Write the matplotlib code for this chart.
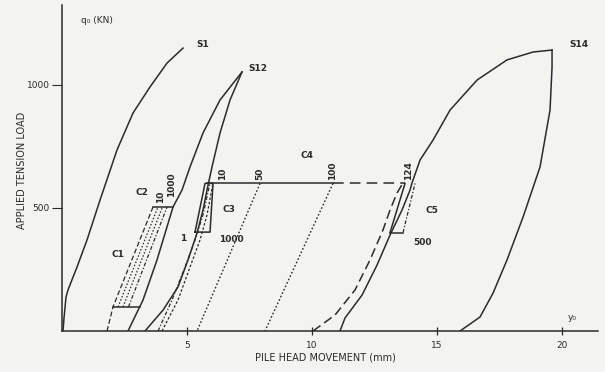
import matplotlib
matplotlib.use("Agg")
import matplotlib.pyplot as plt

# ---------------- data (x: pile head movement mm, y: applied tension load kN) -------------
s1_x = [0.04, 0.08, 0.16, 0.24, 0.6, 1.0, 1.52, 2.2, 2.84, 3.52, 4.2, 4.84]
s1_y = [0, 53, 138, 167, 260, 370, 532, 736, 886, 992, 1089, 1150]

s12_load_x = [3.32, 4.04, 4.64, 5.04, 5.4, 5.64, 5.8, 6.0, 6.32, 6.72, 7.2]
s12_load_y = [0, 85, 179, 289, 398, 492, 573, 667, 805, 939, 1053]
s12_unload_x = [7.2, 6.32, 5.64, 5.12, 4.8, 4.44, 3.8, 3.24, 2.64]
s12_unload_y = [1053, 939, 805, 667, 573, 504, 289, 126, 0]

s14_load_x = [11.12, 11.32, 12.0, 12.6, 13.12, 13.6, 13.92, 14.0, 14.32, 14.84, 15.52, 16.6, 17.8, 18.84, 19.6]
s14_load_y = [0, 53, 146, 268, 390, 492, 573, 602, 695, 776, 898, 1020, 1102, 1134, 1142]
s14_unload_x = [19.6, 19.6, 19.52, 19.12, 18.44, 17.8, 17.24, 16.72, 15.92]
s14_unload_y = [1142, 1073, 898, 667, 463, 289, 154, 57, 0]

c5_reload_x = [10.04, 10.92, 11.72, 12.32, 12.84, 13.12, 13.4, 13.64]
c5_reload_y = [0, 65, 167, 289, 411, 492, 561, 602]

# C4 cyclic plateau
c4_load = 600
c4_solid_x = [5.8, 10.84]
c4_dash_x = [10.84, 13.72]
c4_marks_x = [6.44, 7.92, 10.84, 13.84]
c4_marks_lbl = ["10", "50", "100", "124"]

# unloading dotted lines from C4
dot50_x = [7.92, 5.4]
dot50_y = [600, 0]
dot100_x = [10.84, 8.12]
dot100_y = [600, 0]

# C3 group
c3_a_x = [3.84, 4.4, 4.92, 5.32, 5.64, 5.92]
c3_a_y = [0, 126, 260, 370, 472, 602]
c3_b_x = [4.0, 4.64, 5.12, 5.52, 5.8, 6.04]
c3_b_y = [0, 126, 260, 370, 472, 602]
c3_box_x = [5.32, 5.92, 6.04, 5.72, 5.32]
c3_box_y = [402, 402, 600, 600, 402]

# C5 box
c5_left_x = [13.12, 13.72]
c5_left_y = [400, 600]
c5_right_x = [13.64, 14.12]
c5_right_y = [400, 600]
c5_bot_x = [13.12, 13.64]
c5_bot_y = [400, 400]

# C1 / C2 group
c1_bot_x = [2.04, 3.12]
c1_bot_y = [98, 98]
c2_top_x = [3.64, 4.44]
c2_top_y = [504, 504]
c1_dash_x = [1.8, 2.04, 3.64]
c1_dash_y = [0, 98, 504]
c1_dot1_x = [2.24, 3.84]
c1_dot2_x = [2.44, 4.02]
c1_dd_x = [2.66, 4.2]
c1_slant_y = [98, 504]

x_ticks = [5, 10, 15, 20]
x_ticklabels = ["5", "10", "15", "20"]
y_ticks = [500, 1000]
y_ticklabels = ["500", "1000"]

# ---------------- figure -------------
ink = "#2b2b2b"
bg = "#f3f3f0"
fig = plt.figure(figsize=(6.05, 3.72), dpi=100, facecolor=bg)
ax = fig.add_axes([0.1025, 0.1102, 0.886, 0.8763], facecolor=bg)
ax.set_xlim(0, 21.44)
ax.set_ylim(0, 1325)

lw = 1.1
ax.plot(s1_x, s1_y, color=ink, lw=lw)
ax.plot(s12_load_x, s12_load_y, color=ink, lw=lw)
ax.plot(s12_unload_x, s12_unload_y, color=ink, lw=lw)
ax.plot(s14_load_x, s14_load_y, color=ink, lw=lw)
ax.plot(s14_unload_x, s14_unload_y, color=ink, lw=lw)
ax.plot(c5_reload_x, c5_reload_y, color=ink, lw=lw, ls=(0, (6, 3)))

ax.plot(c4_solid_x, [c4_load, c4_load], color=ink, lw=lw)
ax.plot(c4_dash_x, [c4_load, c4_load], color=ink, lw=lw, ls=(0, (7, 4)))
ax.plot(dot50_x, dot50_y, color=ink, lw=1.0, ls=(0, (1.2, 1.5)))
ax.plot(dot100_x, dot100_y, color=ink, lw=1.0, ls=(0, (1.2, 1.5)))

ax.plot(c3_a_x, c3_a_y, color=ink, lw=0.9, ls=(0, (3, 1.5, 1, 1.5)))
ax.plot(c3_b_x, c3_b_y, color=ink, lw=0.9, ls=(0, (2, 1.5)))
ax.plot(c3_box_x, c3_box_y, color=ink, lw=lw)

ax.plot(c5_left_x, c5_left_y, color=ink, lw=lw)
ax.plot(c5_right_x, c5_right_y, color=ink, lw=0.9, ls=(0, (3, 1.5, 1, 1.5)))
ax.plot(c5_bot_x, c5_bot_y, color=ink, lw=lw)

ax.plot(c1_bot_x, c1_bot_y, color=ink, lw=lw)
ax.plot(c2_top_x, c2_top_y, color=ink, lw=lw)
ax.plot(c1_dash_x, c1_dash_y, color=ink, lw=0.9, ls=(0, (4, 2)))
ax.plot(c1_dot1_x, c1_slant_y, color=ink, lw=0.9, ls=(0, (1.2, 1.5)))
ax.plot(c1_dot2_x, c1_slant_y, color=ink, lw=0.9, ls=(0, (1.2, 1.5)))
ax.plot(c1_dd_x, c1_slant_y, color=ink, lw=0.9, ls=(0, (3, 1.5, 1, 1.5)))

# ---------------- text -------------
fs = 6.5
tk = dict(color=ink, fontsize=fs, fontweight="bold")
ax.text(5.36, 1163, "S1", ha="left", va="center", **tk)
ax.text(7.45, 1069, "S12", ha="left", va="center", **tk)
ax.text(20.3, 1163, "S14", ha="left", va="center", **tk)
ax.text(9.8, 715, "C4", ha="center", va="center", **tk)
ax.text(6.4, 492, "C3", ha="left", va="center", **tk)
ax.text(6.3, 372, "1000", ha="left", va="center", **tk)
ax.text(4.84, 378, "1", ha="center", va="center", **tk)
ax.text(3.2, 565, "C2", ha="center", va="center", **tk)
ax.text(3.95, 545, "10", ha="center", va="center", rotation=90, **tk)
ax.text(4.4, 595, "1000", ha="center", va="center", rotation=90, **tk)
ax.text(2.24, 309, "C1", ha="center", va="center", **tk)
ax.text(14.55, 490, "C5", ha="left", va="center", **tk)
ax.text(14.05, 360, "500", ha="left", va="center", **tk)
for xm, lb in zip(c4_marks_x, c4_marks_lbl):
    ax.text(xm, c4_load + 15, lb, ha="center", va="bottom", rotation=90, **tk)

ax.text(1.4, 1262, "q₀ (KN)", ha="center", va="center", color=ink, fontsize=fs)
ax.text(20.4, 37, "y₀", ha="center", va="bottom", color=ink, fontsize=fs)

# ---------------- axes styling -------------
for s in ["top", "right"]:
    ax.spines[s].set_visible(False)
for s in ["left", "bottom"]:
    ax.spines[s].set_color(ink)
    ax.spines[s].set_linewidth(1.1)
ax.set_xticks(x_ticks)
ax.set_xticklabels(x_ticklabels)
ax.set_yticks(y_ticks)
ax.set_yticklabels(y_ticklabels)
ax.tick_params(axis="x", direction="inout", length=6, width=0.9, colors=ink, labelsize=fs, pad=4)
ax.tick_params(axis="y", direction="out", length=7, width=0.8, colors=ink, labelsize=fs, pad=2)

fig.text(22 / 605, 1 - 170 / 372, "APPLIED TENSION LOAD", rotation=90, ha="center", va="center",
         color=ink, fontsize=7)
fig.text(325 / 605, 1 - 358 / 372, "PILE HEAD MOVEMENT (mm)", ha="center", va="center",
         color=ink, fontsize=7)

fig.savefig("out.png", dpi=100, facecolor=bg)
